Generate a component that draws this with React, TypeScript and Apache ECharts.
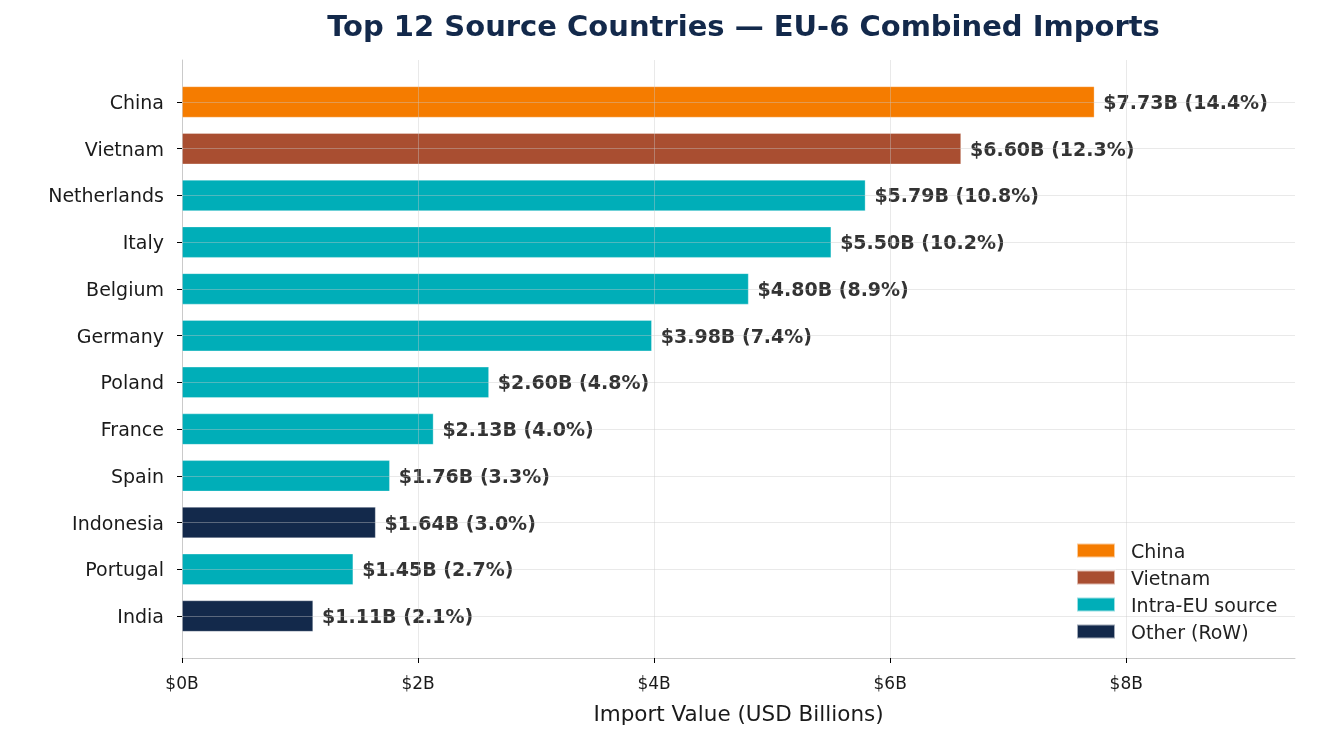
import React, { useEffect, useRef } from "react";
import * as echarts from "echarts";

const categories = ["China", "Vietnam", "Netherlands", "Italy", "Belgium", "Germany", "Poland", "France", "Spain", "Indonesia", "Portugal", "India"];
const values = [7.73, 6.60, 5.79, 5.50, 4.80, 3.98, 2.60, 2.13, 1.76, 1.64, 1.45, 1.11];
const shares = [14.4, 12.3, 10.8, 10.2, 8.9, 7.4, 4.8, 4.0, 3.3, 3.0, 2.7, 2.1];
const groups = ["China", "Vietnam", "Intra-EU", "Intra-EU", "Intra-EU", "Intra-EU", "Intra-EU", "Intra-EU", "Intra-EU", "Other", "Intra-EU", "Other"];
const groupKeys = ["China", "Vietnam", "Intra-EU", "Other"];
const groupNames = ["China", "Vietnam", "Intra-EU source", "Other (RoW)"];
const groupColors = ["#F57C00", "#A94E31", "#00AEB8", "#13294B"];
const xTicks = [0, 2, 4, 6, 8];

const FONT = "DejaVu Sans";
const X_MAX = 9.43;

export default function App() {
  const ref = useRef<HTMLDivElement>(null);
  useEffect(() => {
    if (!ref.current) return;
    const chart = echarts.init(ref.current, null, { renderer: "svg" });
    const gridLine = { show: true, lineStyle: { color: "rgba(200,200,200,0.4)", width: 1 } };
    const series = groupKeys.map((g, gi) => ({
      type: "bar",
      name: groupNames[gi],
      stack: "all",
      xAxisIndex: 1,
      yAxisIndex: 1,
      barWidth: 31,
      z: 2,
      itemStyle: { color: groupColors[gi], borderColor: "rgba(255,255,255,0.6)", borderWidth: 0.5 },
      data: values.map((v, i) => (groups[i] === g ? v : "-")),
      label: {
        show: true,
        position: "right",
        distance: 9,
        fontFamily: FONT,
        fontSize: 19,
        fontWeight: "bold",
        color: "#333333",
        formatter: (p: any) => `$${values[p.dataIndex].toFixed(2)}B (${shares[p.dataIndex].toFixed(1)}%)`,
      },
    }));
    chart.setOption({
      animation: false,
      textStyle: { fontFamily: FONT },
      title: {
        text: "Top 12 Source Countries — EU-6 Combined Imports",
        left: 738.5,
        textAlign: "center",
        top: 6,
        textStyle: { fontFamily: FONT, fontSize: 29, fontWeight: "bold", color: "#13294B" },
      },
      legend: {
        orient: "vertical",
        left: 1076,
        top: 541,
        padding: 0,
        itemWidth: 38,
        itemHeight: 14,
        itemGap: 8,
        icon: "rect",
        data: groupNames,
        textStyle: { fontFamily: FONT, fontSize: 19, lineHeight: 19, color: "#222222", padding: [0, 0, 0, 11] },
      },
      grid: [
        { left: 182, right: 26, top: 60, bottom: 77 },
        { left: 182, right: 26, top: 78.6, bottom: 95.6 },
      ],
      xAxis: [
        {
          type: "value",
          gridIndex: 0,
          min: 0,
          max: X_MAX,
          interval: 2,
          z: 3,
          axisLine: { show: true, lineStyle: { color: "#cccccc", width: 1 } },
          axisTick: { show: true, length: 5, customValues: xTicks, lineStyle: { color: "#000000", width: 1 } },
          axisLabel: {
            customValues: xTicks,
            margin: 16,
            fontFamily: FONT,
            fontSize: 17,
            color: "#1a1a1a",
            formatter: (v: number) => `$${v}B`,
          },
          splitLine: gridLine,
          name: "Import Value (USD Billions)",
          nameLocation: "middle",
          nameGap: 44,
          nameTextStyle: { fontFamily: FONT, fontSize: 21.5, color: "#1a1a1a" },
        },
        {
          type: "value",
          gridIndex: 1,
          min: 0,
          max: X_MAX,
          show: false,
          splitLine: { show: false },
        },
      ],
      yAxis: [
        {
          type: "value",
          gridIndex: 0,
          min: 0,
          max: 1,
          axisLine: { show: true, lineStyle: { color: "#cccccc", width: 1 } },
          axisTick: { show: false },
          axisLabel: { show: false },
          splitLine: { show: false },
        },
        {
          type: "category",
          gridIndex: 1,
          data: categories,
          inverse: true,
          z: 3,
          axisLine: { show: false },
          axisTick: { show: true, alignWithLabel: true, length: 5, lineStyle: { color: "#000000", width: 1 } },
          axisLabel: { margin: 18, fontFamily: FONT, fontSize: 19, color: "#1a1a1a" },
          splitLine: { ...gridLine, alignWithLabel: true },
        },
      ],
      series,
    });
    return () => chart.dispose();
  }, []);
  return <div ref={ref} style={{ position: "fixed", left: 0, top: 0, width: 1321, height: 735 }} />;
}
